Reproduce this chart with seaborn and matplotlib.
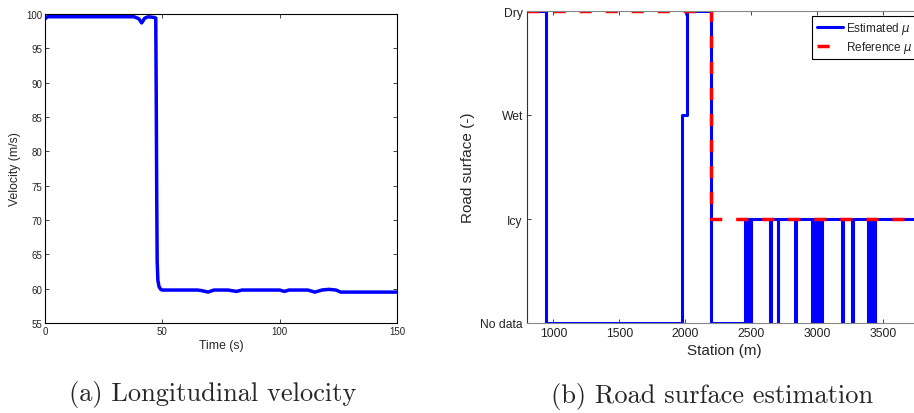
import matplotlib
matplotlib.use("Agg")
import matplotlib.pyplot as plt
import seaborn as sns
import pandas as pd

sns.set_style("ticks")
plt.rcParams['font.family'] = ['Liberation Sans', 'DejaVu Sans']
plt.rcParams['xtick.direction'] = 'in'
plt.rcParams['ytick.direction'] = 'in'

# ---- (a) Longitudinal velocity ----
time_s = [0, 1, 5, 20, 35, 38, 40, 41.2, 42.5, 44, 46.5, 47.2, 47.4, 47.6, 47.8, 48.1,
          48.6, 49.3, 50, 55, 60, 65, 67, 69.5, 72, 74, 78, 81.5, 84, 87, 90, 95, 100, 102,
          104, 108, 112, 115, 118, 121, 124, 126, 130, 140, 150]
velocity = [99.3, 99.6, 99.6, 99.6, 99.6, 99.6, 99.3, 98.7, 99.4, 99.6, 99.5, 99.4, 88,
            74, 64, 61.2, 60.3, 59.9, 59.8, 59.8, 59.8, 59.8, 59.7, 59.5, 59.8, 59.8, 59.8,
            59.6, 59.8, 59.8, 59.8, 59.8, 59.8, 59.6, 59.8, 59.8, 59.8, 59.5, 59.8, 59.9,
            59.8, 59.5, 59.5, 59.5, 59.5]
vel_xticks = [0, 50, 100, 150]
vel_yticks = [55, 60, 65, 70, 75, 80, 85, 90, 95, 100]

# ---- (b) Road surface estimation ----
surface_labels = ['No data', 'Icy', 'Wet', 'Dry']
est_station = [800, 947, 1977, 2012, 2197, 2457,
               2475, 2481, 2497, 2503,
               2647, 2653, 2702, 2708, 2837, 2843,
               2965, 2971, 2987, 2993, 3012, 3018, 3032, 3038,
               3192, 3198, 3265, 3271,
               3389, 3395, 3412, 3418, 3437, 3443, 3800]
est_level = [3, 0, 2, 3, 0, 1,
             0, 1, 0, 1,
             0, 1, 0, 1, 0, 1,
             0, 1, 0, 1, 0, 1, 0, 1,
             0, 1, 0, 1,
             0, 1, 0, 1, 0, 1, 1]
ref_station = [800, 2200, 3800]
ref_level = [3, 1, 1]
station_xticks = [1000, 1500, 2000, 2500, 3000, 3500]

W, H = 914, 414
fig = plt.figure(figsize=(W / 100, H / 100), dpi=100)

# Left axes
ax1 = fig.add_axes([45 / W, (H - 324) / H, 352 / W, 309 / H])
df_v = pd.DataFrame({'t': time_s, 'v': velocity})
sns.lineplot(data=df_v, x='t', y='v', ax=ax1, color='#0000ff', lw=2.5,
             estimator=None, sort=False)
ax1.set_xlim(0, 150)
ax1.set_ylim(55, 100)
ax1.set_xticks(vel_xticks)
ax1.set_yticks(vel_yticks)
ax1.tick_params(labelsize=7, length=3, width=0.6, top=True, right=True, pad=2)
for s in ax1.spines.values():
    s.set_visible(True)
    s.set_color('black')
    s.set_linewidth(0.8)
ax1.set_xlabel('Time (s)', fontsize=8.8, labelpad=2)
ax1.set_ylabel('Velocity (m/s)', fontsize=8.8, labelpad=4)

# Right axes
x0 = 527
x1 = 922.3
ax2 = fig.add_axes([x0 / W, (H - 324) / H, (x1 - x0) / W, 312 / H])
df_e = pd.DataFrame({'s': est_station, 'lvl': est_level})
df_r = pd.DataFrame({'s': ref_station, 'lvl': ref_level})
sns.lineplot(data=df_e, x='s', y='lvl', ax=ax2, color='#0000ff', lw=2.2,
             drawstyle='steps-post', estimator=None, sort=False,
             label=r'Estimated $\mu$')
sns.lineplot(data=df_r, x='s', y='lvl', ax=ax2, color='#ff0000', lw=2.5,
             drawstyle='steps-post', estimator=None, sort=False,
             linestyle=(0, (3.5, 4)), label=r'Reference $\mu$')
ax2.set_xlim(800, 3800)
ax2.set_ylim(0, 3)
ax2.set_xticks(station_xticks)
ax2.set_yticks([0, 1, 2, 3])
ax2.set_yticklabels(surface_labels)
ax2.tick_params(labelsize=8.7, length=3, width=0.6, top=True, right=True, pad=3,
                colors='#222222')
for k, s in ax2.spines.items():
    s.set_visible(True)
    s.set_linewidth(0.8)
    s.set_color('#888888')
ax2.spines['left'].set_color('#333333')
ax2.set_xlabel('Station (m)', fontsize=11, labelpad=3)
ax2.set_ylabel('Road surface (-)', fontsize=11, labelpad=4)
leg = ax2.legend(loc='upper left', bbox_to_anchor=(0.722, 0.985), borderaxespad=0,
                 fontsize=8.5, frameon=True, fancybox=False, framealpha=1,
                 edgecolor='black', handlelength=2.2, handletextpad=0.3,
                 borderpad=0.35, labelspacing=0.3)
leg.get_frame().set_linewidth(0.8)

fig.text(213 / W, 1 - 395 / H, '(a) Longitudinal velocity', family='cmr10',
         fontsize=19, ha='center', va='center')
fig.text(712 / W, 1 - 397 / H, '(b) Road surface estimation', family='cmr10',
         fontsize=19, ha='center', va='center')

fig.savefig('out.png', dpi=100)
